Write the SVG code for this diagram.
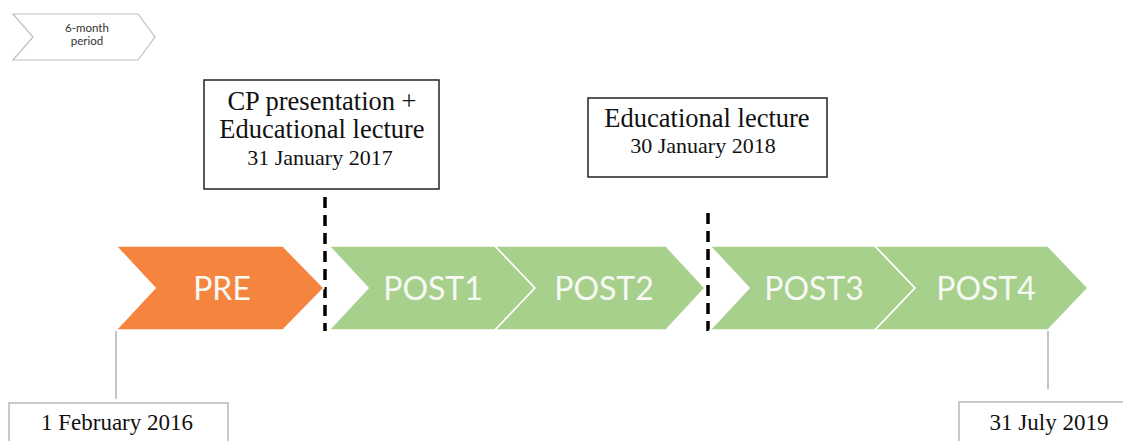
<svg xmlns="http://www.w3.org/2000/svg" width="1123" height="441" viewBox="0 0 1123 441">
<style>
.chev{stroke:#fff;stroke-width:1.6;stroke-linejoin:miter}
.green{fill:#A8D08D}
.orange{fill:#F5843F}
.lbl{font-family:Lato,"Open Sans",sans-serif;font-size:32px;fill:#F7FAF4;text-anchor:middle}
.serif{font-family:"Liberation Serif","Times New Roman",serif;fill:#111;text-anchor:middle}
.box{fill:#fff;stroke:#222;stroke-width:1.5}
.gbox{fill:#fff;stroke:#A6A6A6;stroke-width:1.2}
.dash{stroke:#000;stroke-width:3.5;stroke-dasharray:11 7;fill:none}
.lead{stroke:#A6A6A6;stroke-width:1.3;fill:none}
.leg{font-family:Lato,"Open Sans",sans-serif;font-size:11.5px;fill:#333;text-anchor:middle}
</style>
<g id="legend">
<polygon points="13,14 138,14 155,37 138,60 13,60 33,37" fill="#fff" stroke="#BFBFBF" stroke-width="1.2"/>
<text class="leg" x="87" y="32">6-month</text>
<text class="leg" x="87" y="45">period</text>
</g>
<g id="connectors">
<line class="dash" x1="325" y1="197" x2="325" y2="331"/>
<line class="dash" x1="708" y1="213" x2="708" y2="331"/>
<line class="lead" x1="116" y1="331" x2="116" y2="399"/>
<line class="lead" x1="1048" y1="331" x2="1048" y2="389"/>
</g>
<g id="pre">
<polygon class="chev orange" points="116,246 283,246 324,288 283,330 116,330 155,288"/>
<text class="lbl" x="222" y="300">PRE</text>
</g>
<g id="post1">
<polygon class="chev green" points="329,246 495,246 535,288 495,330 329,330 368,288"/>
<text class="lbl" x="433" y="300">POST1</text>
</g>
<g id="post2">
<polygon class="chev green" points="495,246 666,246 705,288 666,330 495,330 535,288"/>
<text class="lbl" x="604" y="300">POST2</text>
</g>
<g id="post3">
<polygon class="chev green" points="710,246 875,246 915,288 875,330 710,330 749,288"/>
<text class="lbl" x="814" y="300">POST3</text>
</g>
<g id="post4">
<polygon class="chev green" points="875,246 1048,246 1088,288 1048,330 875,330 915,288"/>
<text class="lbl" x="986" y="300">POST4</text>
</g>
<g id="event1">
<rect class="box" x="204" y="80" width="235" height="109"/>
<text class="serif" x="322" y="110" font-size="26.5">CP presentation +</text>
<text class="serif" x="322" y="138" font-size="26.5">Educational lecture</text>
<text class="serif" x="320" y="165" font-size="22">31 January 2017</text>
</g>
<g id="event2">
<rect class="box" x="588" y="98" width="239" height="79"/>
<text class="serif" x="707" y="127" font-size="26.5">Educational lecture</text>
<text class="serif" x="703" y="153" font-size="22">30 January 2018</text>
</g>
<g id="start">
<rect class="gbox" x="9" y="403" width="219" height="45"/>
<text class="serif" x="117" y="430" font-size="23">1 February 2016</text>
</g>
<g id="end">
<rect class="gbox" x="959" y="402" width="170" height="45"/>
<text class="serif" x="1049" y="430" font-size="23">31 July 2019</text>
</g>
</svg>
